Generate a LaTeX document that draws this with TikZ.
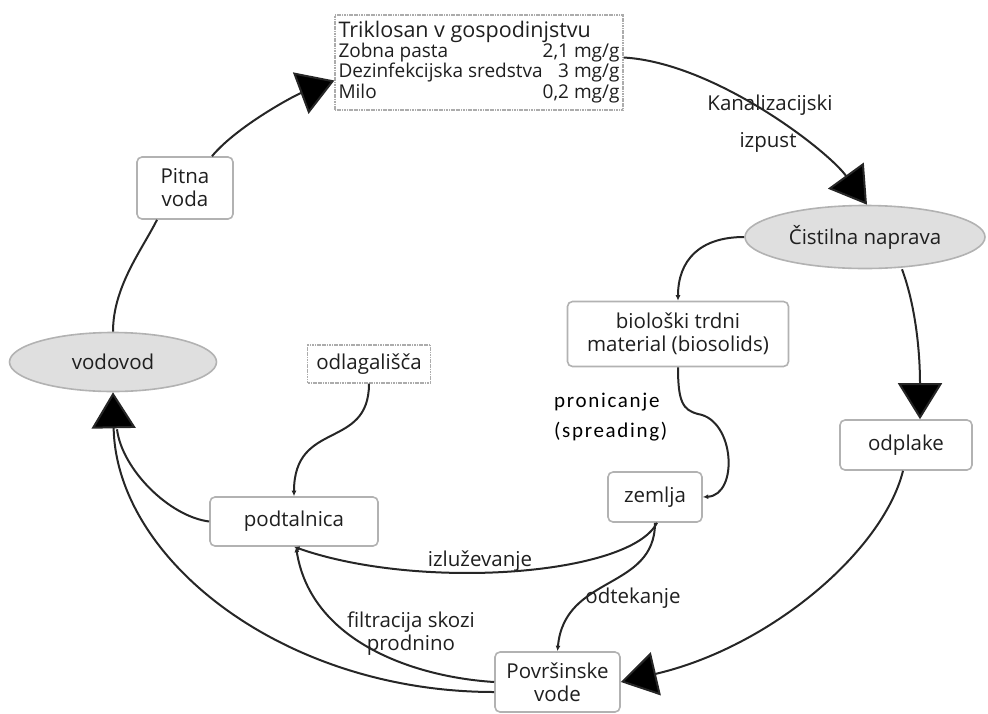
\documentclass[tikz,border=0pt]{standalone}
\usepackage{fontspec}
\setmainfont{Open Sans}
\newfontfamily\calib[LetterSpace=8]{Carlito}
\usetikzlibrary{arrows.meta,shapes.geometric}
\begin{document}
\begin{tikzpicture}[x=1pt,y=-1pt,
  every node/.style={font=\fontsize{20.5}{23}\selectfont, text=black!88},
  rbox/.style={draw=gray!60, line width=1.6pt, rounded corners=5pt, fill=white, align=center, inner sep=2pt},
  dbox/.style={draw=gray!65, line width=1.2pt, dash pattern=on 1.2pt off 0.5pt, fill=white, inner sep=0pt},
  ell/.style={ellipse, draw=gray!60, line width=1.6pt, fill=gray!25, inner sep=0pt},
  conn/.style={draw=black!85, line width=2pt},
  big/.style={-{Triangle[length=36pt,width=44pt,fill=black]}},
  small/.style={-{Latex[length=5.5pt,width=5pt]}},
  lbl/.style={inner sep=0pt}
]
\useasboundingbox (0,0) rectangle (988,713);

% nodes
\node[dbox, minimum width=288, minimum height=95] (tri) at (479,62.5)
  {\fontsize{19}{19.5}\selectfont\begin{tabular}{@{}l@{}r@{}}
   \multicolumn{2}{@{}l@{}}{\fontsize{21.5}{22}\selectfont Triklosan v gospodinjstvu}\\
   Zobna pasta & 2,1 mg/g\\
   Dezinfekcijska sredstva\ & 3 mg/g\\
   Milo & 0,2 mg/g
   \end{tabular}};
\node[rbox, minimum width=96, minimum height=62] (pit) at (185,188) {Pitna\\voda};
\node[ell, minimum width=207, minimum height=59] (vod) at (113,362) {vodovod};
\node[ell, minimum width=240, minimum height=63] (cist) at (865,237) {Čistilna naprava};
\node[rbox, minimum width=221, minimum height=65] (bio) at (678,334) {biološki trdni\\material (biosolids)};
\node[dbox, minimum width=123, minimum height=38] (odl) at (369,364) {odlagališča};
\node[rbox, minimum width=132, minimum height=50] (odp) at (906,445) {odplake};
\node[rbox, minimum width=94, minimum height=50] (zem) at (655,497) {zemlja};
\node[rbox, minimum width=168, minimum height=49] (pod) at (294,521.5) {podtalnica};
\node[rbox, minimum width=125, minimum height=60] (pov) at (557.5,682) {Površinske\\vode};

% labels
\node[lbl] (kan1) at (770,105) {Kanalizacijski};
\node[lbl] (kan2) at (768,142) {izpust};
\node[lbl, anchor=west, align=left, font=\calib\fontsize{21}{30}\selectfont, text=black] (pron) at (554,417) {pronicanje\\(spreading)};
\node[lbl] (izl) at (480,561) {izluževanje};
\node[lbl] (odt) at (633,598) {odtekanje};
\node[lbl, align=center] (filt) at (411,633.5) {filtracija skozi\\prodnino};

% connectors
\draw[conn,big] ([xshift=27pt]pit.north) .. controls +(25,-30) and +(-40,15) .. ([yshift=-18pt]tri.west);
\draw[conn,big] ([yshift=5pt]tri.east) .. controls +(90,5) and +(-40,-55) .. ([xshift=2pt]cist.north);
\draw[conn,small] (cist.west) .. controls +(-45,0) and +(0,-40) .. (bio.north);
\draw[conn,big] ([xshift=37pt]cist.south) .. controls +(13,35) and +(0,-70) .. ([xshift=14pt]odp.north);
\draw[conn,big] ([xshift=-3pt]odp.south) .. controls +(-20,80) and +(150,-35) .. (pov.east);
\draw[conn,small] (bio.south) .. controls +(0,35) and +(-15,-4) .. (698,414) .. controls +(37,6) and +(36,-2) .. (zem.east);
\draw[conn,small] (odl.south) .. controls +(0,67) and +(0,-77) .. (pod.north);
\draw[conn,small] ([xshift=2pt]zem.south) .. controls +(-27,53) and +(125,44) .. (pod.south);
\draw[conn,small] (zem.south) .. controls +(0,68) and +(7,-77) .. (pov.north);
\draw[conn,small] (pov.west) .. controls +(-80,-5) and +(15,95) .. ([xshift=2pt]pod.south);
\draw[conn,big] ([yshift=-10pt]pov.west) .. controls +(-211,0) and +(3,167) .. (vod.south);
\coordinate (vj) at ([xshift=4pt,yshift=-37pt]vod.south);
\draw[conn] (pod.west) .. controls +(-40,-5) and +(5,40) .. (vj);
\draw[conn] (vod.north) .. controls +(0,-45) and +(-15,30) .. ([xshift=-28pt]pit.south);
\end{tikzpicture}
\end{document}
